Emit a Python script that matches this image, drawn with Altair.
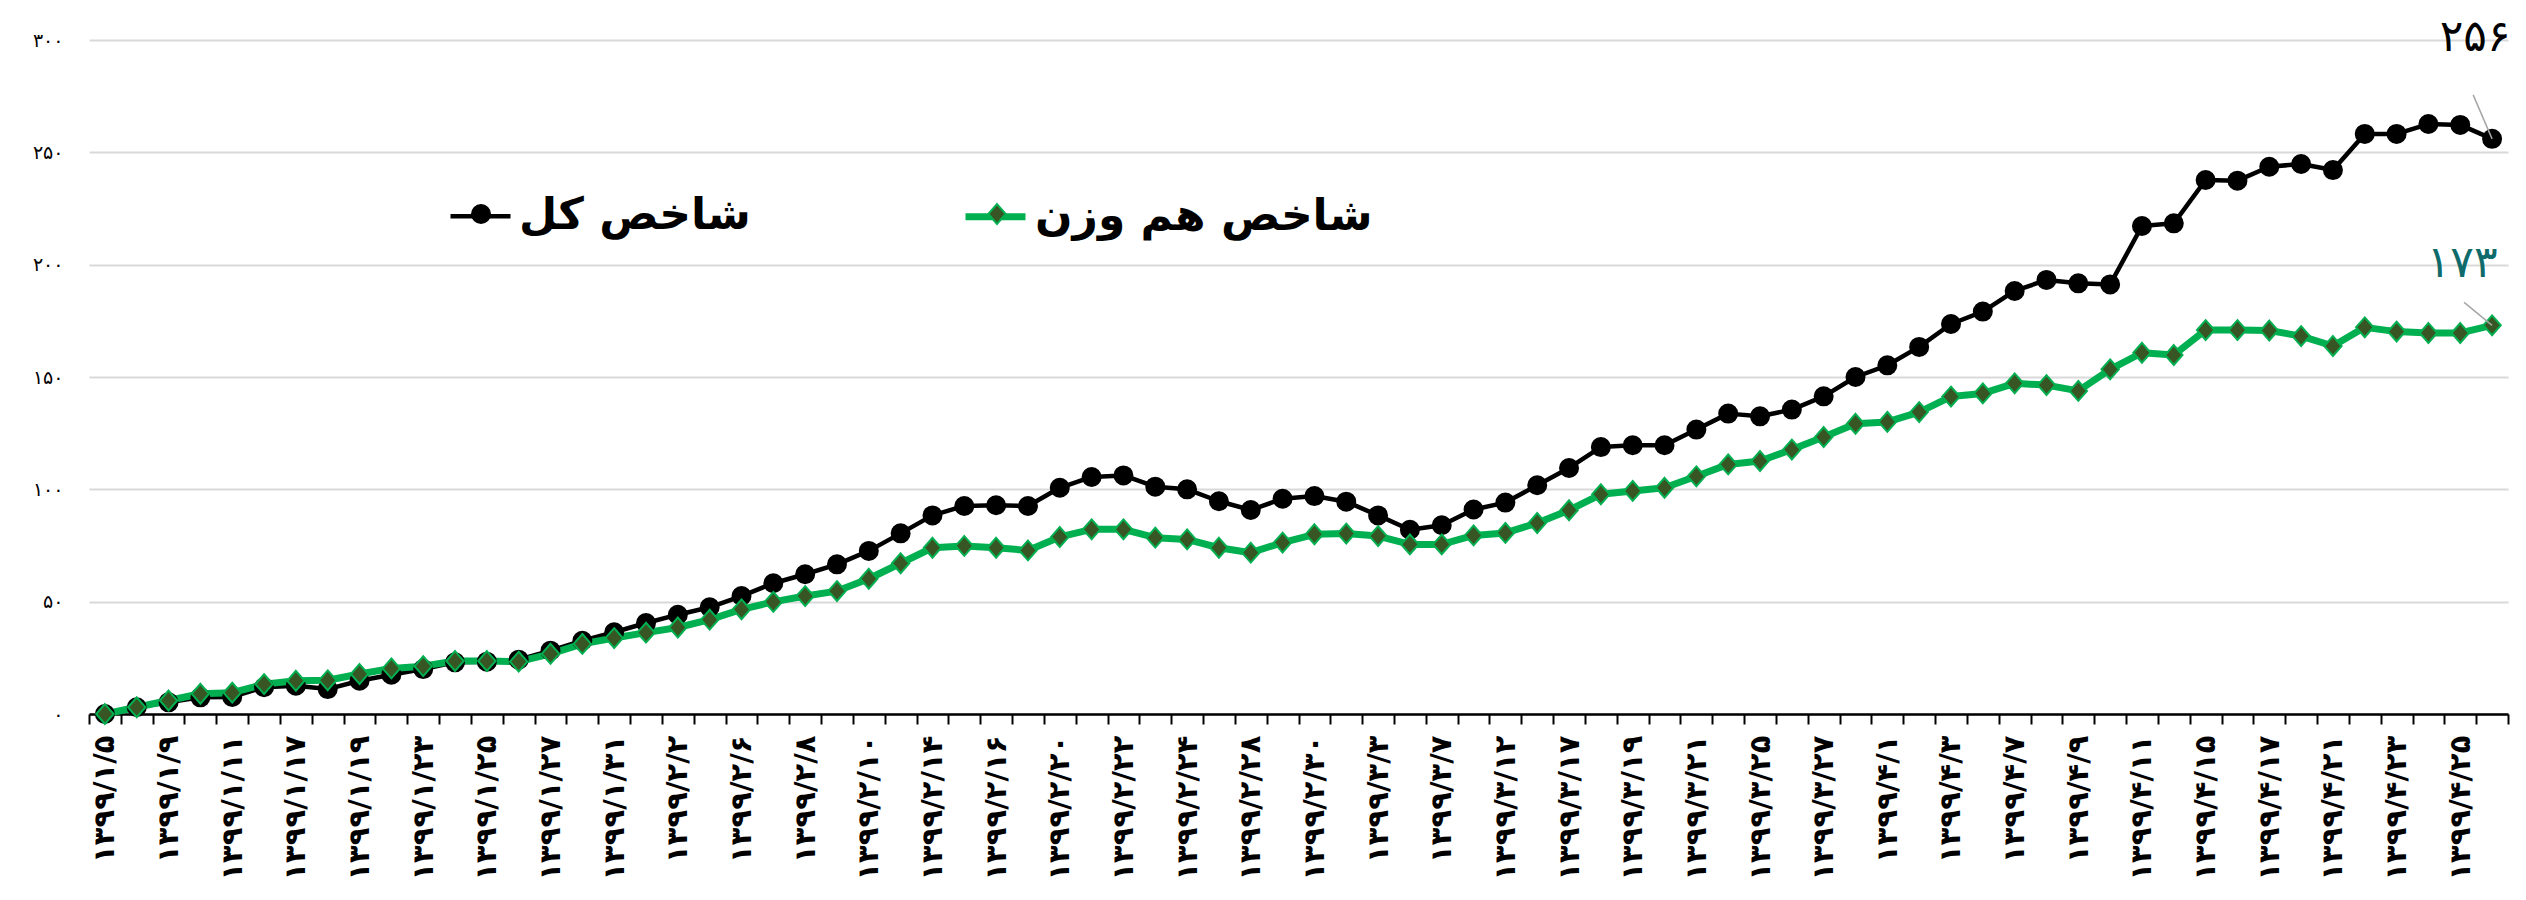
import json
import altair as alt
import pandas as pd

FA = str.maketrans("0123456789", "۰۱۲۳۴۵۶۷۸۹")


def fa(v):
    return str(v).translate(FA)


FONT = "DejaVu Sans"

DAY_MONTH = [
    "1/5", "1/6", "1/9", "1/10", "1/11", "1/16", "1/17", "1/18", "1/19", "1/20",
    "1/23", "1/24", "1/25", "1/26", "1/27", "1/30", "1/31", "2/1", "2/2", "2/3",
    "2/6", "2/7", "2/8", "2/9", "2/10", "2/13", "2/14", "2/15", "2/16", "2/17",
    "2/20", "2/21", "2/22", "2/23", "2/24", "2/27", "2/28", "2/29", "2/30", "2/31",
    "3/3", "3/6", "3/7", "3/11", "3/12", "3/13", "3/17", "3/18", "3/19", "3/20",
    "3/21", "3/24", "3/25", "3/26", "3/27", "3/31", "4/1", "4/2", "4/3", "4/4",
    "4/7", "4/8", "4/9", "4/10", "4/11", "4/14", "4/15", "4/16", "4/17", "4/18",
    "4/21", "4/22", "4/23", "4/24", "4/25", "4/28",
]
DATES = [fa("1399/" + d) for d in DAY_MONTH]
SHOWN = DATES[::2]

TOTAL = [
    0, 3, 5.2, 7.4, 7.6, 11.9, 12.6, 11.1, 14.8, 17.5,
    20, 23, 23.3, 24.2, 28.2, 32.6, 36.4, 40.5, 44.2, 47.5,
    52.5, 58.2, 62.2, 66.6, 72.6, 80.4, 88.4, 92.6, 92.9, 92.6,
    100.7, 105.5, 106.2, 101.2, 100, 94.7, 90.8, 95.8, 97, 94.5,
    88.4, 82, 84, 91, 94.1, 101.8, 109.5, 118.8, 119.6, 119.6,
    126.6, 133.7, 132.5, 135.5, 141.4, 150, 155.2, 163.4, 173.6, 179.1,
    188.3, 193.2, 191.7, 191.2, 217.2, 218.4, 237.7, 237.4, 243.6, 244.8,
    242.1, 258.2, 258.2, 262.6, 262.2, 256,
]
EQUAL = [
    0, 3, 6, 9, 9.5, 13.3, 14.8, 15, 17.8, 20.3,
    21.3, 23.6, 23.6, 23.3, 26.8, 31.2, 33.8, 36.2, 38.5, 42,
    46.6, 49.9, 52.5, 54.7, 60.2, 67.1, 74, 74.8, 74, 72.8,
    78.8, 82.2, 82.2, 78.5, 77.7, 74, 71.8, 76.3, 80, 80.3,
    79.2, 75.5, 75.5, 79.5, 80.6, 85, 90.7, 97.8, 99.3, 100.7,
    105.8, 111.1, 112.6, 117.7, 123.3, 129.2, 130, 134.4, 141.3, 142.7,
    147.2, 146.4, 143.8, 153.4, 160.8, 159.8, 170.9, 170.9, 170.7, 168.2,
    163.8, 172.1, 170.2, 169.6, 169.6, 173,
]

S_TOTAL = "شاخص کل"
S_EQUAL = "شاخص هم وزن"
SERIES = [S_TOTAL, S_EQUAL]

Y_TICKS = [0, 50, 100, 150, 200, 250, 300]

LINE_COLORS = ["#000000", "#00B050"]
LINE_WIDTHS = [4.5, 7]
MARK_FILLS = ["#000000", "#375623"]
MARK_STROKES = ["#000000", "#00B050"]
MARK_PATHS = [
    "M-0.3,0A0.3,0.3,0,1,0,0.3,0A0.3,0.3,0,1,0,-0.3,0Z",
    "M0,-0.33L0.29,0L0,0.33L-0.29,0Z",
]

n = len(DATES)
df = pd.DataFrame({
    "date": DATES + DATES,
    "series": [S_TOTAL] * n + [S_EQUAL] * n,
    "value": TOTAL + EQUAL,
})
end_df = pd.DataFrame({
    "date": [DATES[-1], DATES[-1]],
    "series": SERIES,
    "value": [TOTAL[-1], EQUAL[-1]],
    "label": [fa(round(TOTAL[-1])), fa(round(EQUAL[-1]))],
})

x_label_expr = (
    "indexof(" + json.dumps(SHOWN, ensure_ascii=False) + ", datum.value) >= 0 ? datum.value : ''"
)
y_label_expr = " : ".join(f"datum.value == {v} ? '{fa(v)}'" for v in Y_TICKS) + " : ''"

x = alt.X(
    "date:N",
    sort=DATES,
    scale=alt.Scale(type="band", domain=DATES, paddingInner=0, paddingOuter=0),
    axis=alt.Axis(
        title=None, labelExpr=x_label_expr, labelAngle=-90, labelAlign="right",
        labelBaseline="middle", labelFont=FONT, labelFontSize=29, labelFontWeight="bold",
        labelColor="black", labelPadding=11, labelOverlap=False, labelBound=False,
        tickBand="extent", ticks=True, tickSize=10, tickWidth=2, tickColor="black",
        domainColor="black", domainWidth=2.5, grid=False,
    ),
)
y = alt.Y(
    "value:Q",
    scale=alt.Scale(domain=[0, 300], nice=False, zero=True),
    axis=alt.Axis(
        title=None, values=Y_TICKS, labelExpr=y_label_expr, labelFont=FONT,
        labelFontSize=19, labelColor="black", labelPadding=26, ticks=False,
        domain=False, grid=True, gridColor="#D9D9D9", gridWidth=2,
    ),
)

LEG = dict(
    orient="none", legendX=359, legendY=143, direction="horizontal", title=None,
    symbolSize=3600, labelFont=FONT, labelFontSize=44, labelFontWeight="bold",
    labelColor="black", labelOffset=6, labelLimit=0, padding=0,
)

# legend of the lines: stroke symbols with the series names
lines = alt.Chart(df).mark_line(strokeJoin="round").encode(
    x=x,
    y=y,
    stroke=alt.Stroke(
        "series:N", scale=alt.Scale(domain=SERIES, range=LINE_COLORS),
        legend=alt.Legend(symbolType="stroke", symbolStrokeWidth=6, columnPadding=200, **LEG),
    ),
    strokeWidth=alt.StrokeWidth(
        "series:N", scale=alt.Scale(domain=SERIES, range=LINE_WIDTHS), legend=None
    ),
)

# legend of the markers: drawn on top of the line symbols, without its own labels
mark_legend = alt.Legend(
    symbolStrokeWidth=2, symbolOffset=2, columnPadding=446, labelExpr="''", **LEG
)
points = alt.Chart(df).mark_point(filled=True, size=3600, opacity=1, strokeWidth=2).encode(
    x=x,
    y=y,
    shape=alt.Shape("series:N", scale=alt.Scale(domain=SERIES, range=MARK_PATHS), legend=mark_legend),
    fill=alt.Fill("series:N", scale=alt.Scale(domain=SERIES, range=MARK_FILLS), legend=mark_legend),
    stroke=alt.Stroke("series:N", scale=alt.Scale(domain=SERIES, range=MARK_STROKES), legend=mark_legend),
)

end_total = alt.Chart(end_df).transform_filter(alt.datum.series == S_TOTAL)
end_equal = alt.Chart(end_df).transform_filter(alt.datum.series == S_EQUAL)

lead_total = end_total.mark_point(
    shape="M0,0L-0.43,-1", size=7744, filled=False, stroke="#A6A6A6", strokeWidth=1.5, opacity=1
).encode(x=x, y=y)
lead_equal = end_equal.mark_point(
    shape="M0,0L-1,-0.82", size=3136, filled=False, stroke="#A6A6A6", strokeWidth=1.5, opacity=1
).encode(x=x, y=y)

txt_total = end_total.mark_text(
    dx=-17, dy=-101, font=FONT, fontSize=44, color="black", align="center", baseline="middle"
).encode(x=x, y=y, text="label:N")
txt_equal = end_equal.mark_text(
    dx=-30, dy=-61, font=FONT, fontSize=44, color="#0F6B6B", align="center", baseline="middle"
).encode(x=x, y=y, text="label:N")

chart = (
    alt.layer(lines, points, lead_total, lead_equal, txt_total, txt_equal)
    .resolve_scale(stroke="independent", fill="independent", shape="independent", strokeWidth="independent")
    .properties(
        width=2419,
        height=674,
        autosize=alt.AutoSizeParams(type="none"),
        padding={"left": 81, "top": 32, "right": 2, "bottom": 170},
        background="white",
    )
    .configure_view(stroke=None)
)

chart.save("out.html", embed_options={"renderer": "svg", "actions": False})
